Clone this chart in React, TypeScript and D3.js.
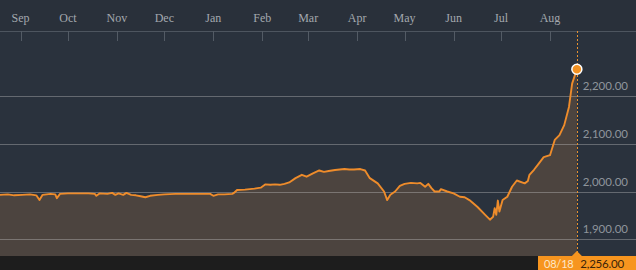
import React from "react";
import * as d3 from "d3";

const dates: string[] = [
  "2019-08-19","2019-08-24","2019-08-28","2019-09-02","2019-09-07","2019-09-11","2019-09-13","2019-09-15",
  "2019-09-20","2019-09-23","2019-09-24","2019-09-26","2019-10-01","2019-10-07","2019-10-14","2019-10-18",
  "2019-10-19","2019-10-21","2019-10-26","2019-10-29","2019-10-31","2019-11-02","2019-11-05","2019-11-07",
  "2019-11-10","2019-11-13","2019-11-16","2019-11-19","2019-11-22","2019-11-27","2019-12-01","2019-12-08",
  "2019-12-14","2019-12-20","2019-12-27","2019-12-30","2020-01-01","2020-01-04","2020-01-08","2020-01-13",
  "2020-01-14","2020-01-16","2020-01-21","2020-01-24","2020-01-27","2020-01-31","2020-02-03","2020-02-06",
  "2020-02-09","2020-02-12","2020-02-15","2020-02-18","2020-02-22","2020-02-26","2020-02-29","2020-03-04",
  "2020-03-08","2020-03-11","2020-03-14","2020-03-18","2020-03-21","2020-03-24","2020-03-27","2020-03-30",
  "2020-04-03","2020-04-06","2020-04-09","2020-04-14","2020-04-18","2020-04-20","2020-04-22","2020-04-25",
  "2020-04-28","2020-05-01","2020-05-05","2020-05-09","2020-05-11","2020-05-14","2020-05-16","2020-05-18",
  "2020-05-20","2020-05-23","2020-05-24","2020-05-28","2020-06-01","2020-06-05","2020-06-08","2020-06-11",
  "2020-06-16","2020-06-21","2020-06-24","2020-06-26","2020-06-27","2020-06-28","2020-06-29","2020-06-30",
  "2020-07-02","2020-07-05","2020-07-08","2020-07-11","2020-07-16","2020-07-18","2020-07-19","2020-07-22",
  "2020-07-25","2020-07-28","2020-08-01","2020-08-04","2020-08-07","2020-08-10","2020-08-13","2020-08-15",
  "2020-08-18",
];

const values: number[] = [
  1993,1994,1992,1993,1994,1992,1982,1993,
  1995,1994,1986,1995,1996,1996,1996,1995,
  1991,1996,1995,1997,1993,1996,1993,1997,
  1993,1992,1990,1988,1991,1993,1994,1995,
  1995,1995,1995,1995,1991,1994,1994,1995,
  1997,2003,2004,2005,2006,2008,2015,2014,
  2015,2014,2016,2019,2028,2035,2031,2038,
  2044,2041,2043,2045,2046,2047,2046,2046,
  2047,2044,2028,2017,2000,1982,1993,2000,
  2012,2016,2018,2017,2018,2010,2016,2007,
  2000,2000,2005,2000,1996,1989,1988,1982,
  1968,1951,1941,1947,1965,1951,1981,1958,
  1982,1989,2010,2023,2017,2022,2035,2046,
  2059,2072,2076,2108,2118,2139,2177,2226,
  2256,
];

const yTicks: number[] = [1900, 2000, 2100, 2200];
const monthLabels: string[] = ["Sep","Oct","Nov","Dec","Jan","Feb","Mar","Apr","May","Jun","Jul","Aug"];
const lastLabelDate = "08/18";
const lastLabelValue = "2,256.00";

const W = 636;
const H = 270;
const plotTop = 31;
const plotBottom = 256;

export default function App() {
  const parse = d3.timeParse("%Y-%m-%d");
  const data = dates.map((d, i) => ({ date: parse(d) as Date, value: values[i] }));

  const x = d3
    .scaleTime()
    .domain([new Date(2019, 8, 1), new Date(2020, 7, 1)])
    .range([20.5, 550]);
  const y = d3.scaleLinear().domain([2000, 2200]).range([191.5, 96]);

  const line = d3
    .line<{ date: Date; value: number }>()
    .x((d) => x(d.date))
    .y((d) => y(d.value));
  const area = d3
    .area<{ date: Date; value: number }>()
    .x((d) => x(d.date))
    .y0(plotBottom)
    .y1((d) => y(d.value));

  const months = d3.timeMonth.range(new Date(2019, 8, 1), new Date(2020, 8, 1));
  const last = data[data.length - 1];
  const lx = x(last.date);
  const ly = y(last.value);
  const fmt = d3.format(",.2f");

  return (
    <svg
      width={W}
      height={H}
      style={{ position: "absolute", left: 0, top: 0, display: "block" }}
    >
      <rect x={0} y={0} width={W} height={H} fill="#2a323d" />
      <rect x={0} y={0} width={W} height={plotTop} fill="#29303a" />
      <path d={area(data) || ""} fill="#4c443f" />
      {yTicks.map((t) => (
        <line
          key={t}
          x1={0}
          x2={W}
          y1={Math.round(y(t)) + 0.5}
          y2={Math.round(y(t)) + 0.5}
          stroke="rgba(210,210,210,0.35)"
          strokeWidth={1}
        />
      ))}
      <line x1={0} x2={W} y1={plotTop + 0.5} y2={plotTop + 0.5} stroke="#4d555f" strokeWidth={1} />
      {months.map((m, i) => (
        <g key={i}>
          <line
            x1={Math.round(x(m)) + 0.5}
            x2={Math.round(x(m)) + 0.5}
            y1={plotTop}
            y2={plotTop + 10}
            stroke="#535b65"
            strokeWidth={1}
          />
          <text
            x={x(m)}
            y={22}
            textAnchor="middle"
            fontFamily="'Liberation Serif', serif"
            fontSize={12}
            fill="#a3a8ae"
          >
            {monthLabels[i]}
          </text>
        </g>
      ))}
      <path d={line(data) || ""} fill="none" stroke="#ee8c2b" strokeWidth={1.9} strokeLinejoin="round" />
      {yTicks.map((t) => (
        <text
          key={"l" + t}
          x={628}
          y={y(t) - 6}
          textAnchor="end"
          fontFamily="Lato, 'Open Sans', sans-serif"
          fontSize={11.5}
          fill="#8f959c"
        >
          {fmt(t)}
        </text>
      ))}
      <line
        x1={Math.round(lx) + 0.5}
        x2={Math.round(lx) + 0.5}
        y1={plotTop}
        y2={plotBottom}
        stroke="#e8912e"
        strokeWidth={1}
        strokeDasharray="2,2"
      />
      <circle cx={lx} cy={ly} r={5} fill="#f29223" stroke="#ffffff" strokeWidth={1.5} />
      <rect x={0} y={plotBottom} width={W} height={H - plotBottom} fill="#1d1d1d" />
      <rect x={538} y={plotBottom} width={W - 538} height={H - plotBottom} fill="#f7951f" />
      <path d={`M${lx - 5},${plotBottom} L${lx},${plotBottom - 5} L${lx + 5},${plotBottom} Z`} fill="#f7951f" />
      <text x={544} y={268} fontFamily="Lato, 'Open Sans', sans-serif" fontSize={11} letterSpacing={-0.2} fill="#fde7c9">
        {lastLabelDate}
      </text>
      <text x={624} y={268} textAnchor="end" fontFamily="Lato, 'Open Sans', sans-serif" fontSize={11.5} letterSpacing={-0.2} fill="#3b2309">
        {lastLabelValue}
      </text>
    </svg>
  );
}
